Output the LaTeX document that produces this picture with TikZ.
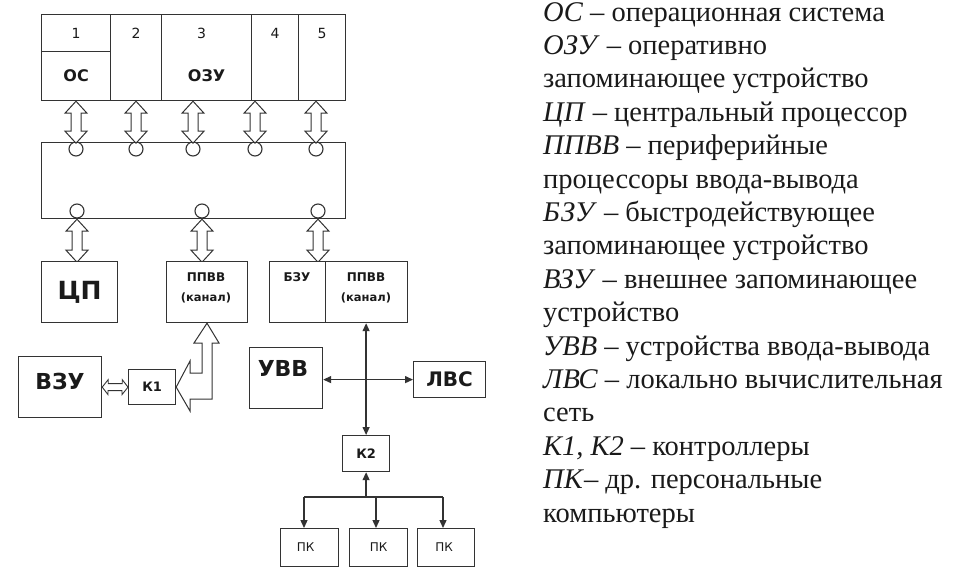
\documentclass[tikz,border=0pt]{standalone}
\usepackage{fontspec}
\setmainfont{Liberation Serif}
\newfontfamily\diagfont{DejaVu Sans}
\usetikzlibrary{arrows.meta}
\definecolor{ln}{HTML}{333333}
\definecolor{tx}{HTML}{1A1A1A}
\begin{document}
\begin{tikzpicture}[x=1pt,y=-1pt,
  box/.style={draw=ln, line width=1.2pt, fill=white, inner sep=0pt, anchor=north west},
  circ/.style={draw=ln, line width=1.1pt, fill=white, circle, inner sep=0pt, minimum size=14pt},
  hollow/.style={draw=ln, line width=1pt, fill=white, line join=miter},
  conn/.style={draw=ln, line width=1.3pt},
  tip/.style={-{Triangle[length=8pt,width=7pt]}},
  tips/.style={{Triangle[length=8pt,width=7pt]}-{Triangle[length=8pt,width=7pt]}},
  num/.style={text=tx, font=\diagfont\fontsize{14}{16}\selectfont, inner sep=0pt},
  bigb/.style={text=tx, font=\diagfont\bfseries\fontsize{#1}{#1}\selectfont, inner sep=0pt},
  smallb/.style={text=tx, font=\diagfont\bfseries\fontsize{#1}{#1}\selectfont, inner sep=0pt},
  smallr/.style={text=tx, font=\diagfont\fontsize{12}{14}\selectfont, inner sep=0pt},
  leg/.style={text=tx, anchor=base west, inner sep=0pt, font=\fontsize{28.5}{33}\selectfont},
  pics/dblv/.style={code={
    \path[hollow] (0,0) -- (11,12) -- (5,12) -- (5,#1-12) -- (11,#1-12) -- (0,#1)
      -- (-11,#1-12) -- (-5,#1-12) -- (-5,12) -- (-11,12) -- cycle;}}
]
\useasboundingbox[fill=white] (0,0) rectangle (955,584);

% ---- memory block ----
\node[box, minimum width=69pt, minimum height=37pt] (c1a) at (41,14) {};
\node[box, minimum width=69pt, minimum height=49pt] (c1b) at (41,51) {};
\node[box, minimum width=51pt, minimum height=86pt] (c2) at (110,14) {};
\node[box, minimum width=90pt, minimum height=86pt] (c3) at (161,14) {};
\node[box, minimum width=47pt, minimum height=86pt] (c4) at (251,14) {};
\node[box, minimum width=47pt, minimum height=86pt] (c5) at (298,14) {};
\node[num] at (c1a.center) {1};
\node[num] at (c2.center |- c1a.center) {2};
\node[num] at ([xshift=-5pt]c3.center |- c1a.center) {3};
\node[num] at (c4.center |- c1a.center) {4};
\node[num] at (c5.center |- c1a.center) {5};
\node[bigb=16] at (c1b.center) {ОС};
\node[bigb=16] at (c3.center |- c1b.center) {ОЗУ};

% ---- bus block ----
\node[box, minimum width=304pt, minimum height=76pt] (bus) at (41,142) {};
\foreach \n/\x in {1/76,2/136,3/193,4/255,5/316}{
  \node[circ] (t\n) at (\x,149) {};
  \pic at (c1b.south -| t\n) {dblv=42};
}
\foreach \n/\x in {1/77,2/202,3/318}{
  \node[circ] (b\n) at (\x,211) {};
  \pic at (bus.south -| b\n) {dblv=43};
}

% ---- lower boxes ----
\node[box, minimum width=76pt, minimum height=61pt] (cp) at (41,261) {};
\node[bigb=25] at (cp.center) {ЦП};
\node[box, minimum width=81pt, minimum height=61pt] (ppvv) at (166,261) {};
\node[smallb=12] at (206,277) {ППВВ};
\node[smallb=11.5] at (206,298) {(канал)};
\node[box, minimum width=56pt, minimum height=61pt] (bzu) at (269,261) {};
\node[box, minimum width=82pt, minimum height=61pt] (ppvv2) at (325,261) {};
\node[smallb=12] at (297,277) {БЗУ};
\node[smallb=12] at (366,277) {ППВВ};
\node[smallb=11.5] at (366,298) {(канал)};

\node[box, minimum width=83pt, minimum height=61pt] (vzu) at (18,356) {};
\node[bigb=22] at (60,381) {ВЗУ};
\node[box, minimum width=47pt, minimum height=35pt] (k1) at (128,369) {};
\node[smallb=13] at (k1.center) {К1};

% small double arrow VZU <-> K1
\path[hollow, line width=0.9pt] (vzu.east |- k1.west) -- ++(6,-7.5) -- ++(0,4) -- ++(14,0) -- ++(0,-4)
   -- (k1.west) -- ++(-6,7.5) -- ++(0,-4) -- ++(-14,0) -- ++(0,4) -- cycle;

% bent hollow arrow PPVV -> K1
\path[hollow] (ppvv.south -| 207,0) -- (219,343) -- (212,343) -- (212,399) -- (190,399)
   -- (190,411) -- (k1.east) -- (190,361) -- (190,373) -- (202,373) -- (202,343) -- (194,343) -- cycle;

\node[box, minimum width=73pt, minimum height=61pt] (uvv) at (249,347) {};
\node[bigb=22] at (283,368) {УВВ};
\node[box, minimum width=72pt, minimum height=36pt] (lvs) at (413,361) {};
\node[bigb=20] at (lvs.center) {ЛВС};

\node[box, minimum width=47pt, minimum height=36pt] (k2) at (342,435) {};
\node[smallb=13] at (k2.center) {К2};

\draw[conn, tips] (k2.north |- ppvv2.south) -- (k2.north);
\draw[conn, tips] (uvv.east |- lvs.west) -- (lvs.west);

\node[box, minimum width=58pt, minimum height=38pt] (pk1) at (280,528) {};
\node[box, minimum width=58pt, minimum height=38pt] (pk2) at (349,528) {};
\node[box, minimum width=57pt, minimum height=38pt] (pk3) at (417,528) {};
\node[smallr] at ([xshift=-4pt]pk1.center) {ПК};
\node[smallr] at (pk2.center) {ПК};
\node[smallr] at ([xshift=-2pt]pk3.center) {ПК};

\coordinate (j1) at (304,497);
\coordinate (j2) at (376,497);
\coordinate (j3) at (443,497);
\coordinate (jk) at (k2.south |- j1);
\draw[conn] (j1) -- (j3);
\draw[conn, tip] (jk) -- (k2.south);
\draw[conn, tip] (j1) -- (j1 |- pk1.north);
\draw[conn, tip] (j2) -- (j2 |- pk2.north);
\draw[conn, tip] (j3) -- (j3 |- pk3.north);

% ---- legend ----
\node[leg] at (543,21)    {\textit{ОС} – операционная система};
\node[leg] at (543,54.4)  {\textit{ОЗУ} – оперативно};
\node[leg] at (543,87.8)  {запоминающее устройство};
\node[leg] at (543,121.2) {\textit{ЦП} – центральный процессор};
\node[leg] at (543,154.6) {\textit{ППВВ} – периферийные};
\node[leg] at (543,188)   {процессоры ввода-вывода};
\node[leg] at (543,221.4) {\textit{БЗУ} – быстродействующее};
\node[leg] at (543,254.8) {запоминающее устройство};
\node[leg] at (543,288.2) {\textit{ВЗУ} – внешнее запоминающее};
\node[leg] at (543,321.6) {устройство};
\node[leg] at (543,355)   {\textit{УВВ} – устройства ввода-вывода};
\node[leg] at (543,388.4) {\textit{ЛВС} – локально вычислительная};
\node[leg] at (543,421.8) {сеть};
\node[leg] at (543,455.2) {\textit{К1, К2} – контроллеры};
\node[leg] at (543,488.6) {\textit{ПК}– др. персональные};
\node[leg] at (543,522)   {компьютеры};
\end{tikzpicture}
\end{document}
